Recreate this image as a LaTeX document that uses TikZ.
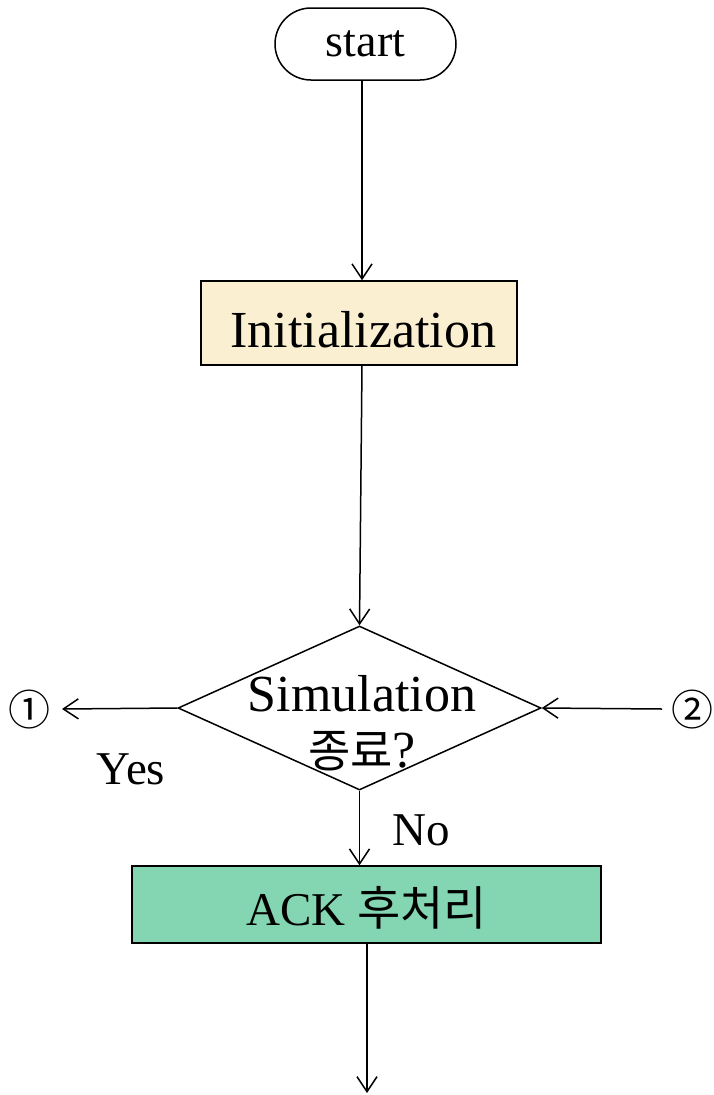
\documentclass[tikz,border=0pt]{standalone}
\usepackage{fontspec}
\setmainfont{Liberation Serif}
\newfontfamily\krfont{Noto Sans CJK KR}
\usetikzlibrary{arrows.meta,shapes.geometric}
\definecolor{initfill}{HTML}{FAEFD0}
\definecolor{ackfill}{HTML}{83D6B1}
\tikzset{
  flow/.style={line width=1.5pt,-{Straight Barb[length=15pt,width=20pt,line width=1.5pt]}},
  boxstyle/.style={draw,line width=1.5pt,inner sep=0pt},
  bigtext/.style={font=\fontsize{52}{58}\selectfont},
  lbl/.style={font=\fontsize{47}{50}\selectfont,inner sep=0pt}
}
\begin{document}
\begin{tikzpicture}[x=1pt,y=-1pt]
\useasboundingbox (0,0) rectangle (714,1095);
% terminal
\node[boxstyle,rounded corners=36pt,minimum width=181pt,minimum height=72pt,
      font=\fontsize{46}{50}\selectfont] (start) at (365.5,44) {start};
% initialization
\node[boxstyle,fill=initfill,minimum width=316pt,minimum height=84pt,bigtext,
      text height=48pt,text depth=0pt] (init) at (359,323) {\,Initialization};
% decision
\node[boxstyle,diamond,minimum width=363pt,minimum height=164pt] (dec) at (359.5,708) {};
\node[bigtext,inner sep=0pt,align=center] (dectext) at (362,723)
  {Simulation\\[-2pt]{\krfont\fontsize{46}{50}\selectfont 종료}?};
% post-processing
\node[boxstyle,fill=ackfill,minimum width=469pt,minimum height=77pt,
      font=\fontsize{47}{50}\selectfont,text height=41pt,text depth=0pt] (ack) at (366.5,904.5)
  {ACK {\krfont\fontsize{47}{50}\selectfont 후처리}};
% off-page connectors
\node[font=\krfont\fontsize{42}{44}\selectfont,inner sep=0pt] (c1) at (30,710) {①};
\node[font=\krfont\fontsize{42}{44}\selectfont,inner sep=0pt] (c2) at (692,710) {②};
\coordinate (endpt) at (367,1093);
\coordinate (initout) at (362,365);
\coordinate (c1in) at (62,709);
\coordinate (c2out) at (662,709);
% arrows
\draw[flow] (start.south -| 362,0) -- (init.north -| 362,0);
\draw[flow] (initout) -- (dec.north);
\draw[flow] (dec.west) -- (c1in);
\draw[flow] (c2out) -- (dec.east);
\draw[flow] (dec.south) -- (ack.north -| dec.south);
\draw[flow] (ack.south -| endpt) -- (endpt);
% branch labels
\node[lbl] (yes) at (131,769) {Yes};
\node[lbl] (no) at (421,830) {No};
\end{tikzpicture}
\end{document}
